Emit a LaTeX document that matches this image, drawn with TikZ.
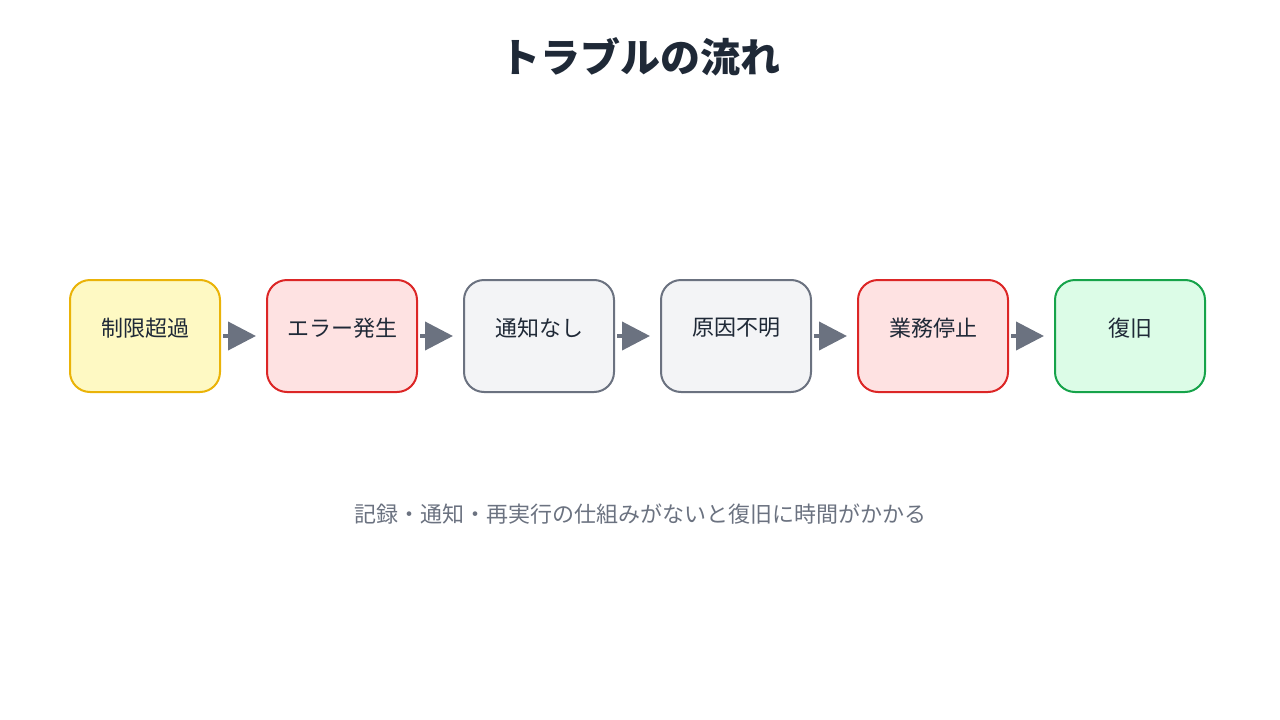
\documentclass[tikz,border=0pt]{standalone}
\usepackage{fontspec}
\setmainfont{Noto Sans CJK JP}
\usetikzlibrary{positioning,arrows.meta}
\definecolor{ylwfill}{HTML}{FEF9C3}\definecolor{ylwline}{HTML}{EAB308}
\definecolor{redfill}{HTML}{FEE2E2}\definecolor{redline}{HTML}{DC2626}
\definecolor{gryfill}{HTML}{F3F4F6}\definecolor{gryline}{HTML}{6B7280}
\definecolor{grnfill}{HTML}{DCFCE7}\definecolor{grnline}{HTML}{16A34A}
\definecolor{ttl}{HTML}{1F2937}
\begin{document}
\begin{tikzpicture}[x=1pt,y=-1pt]
\tikzstyle{box} = [draw,line width=2pt,rounded corners=20pt,minimum width=150pt,minimum height=112pt,inner sep=0pt]
\tikzstyle{lbl} = [text=ttl,font=\fontsize{22}{26}\selectfont]
\tikzstyle{flow} = [gryline,line width=4pt,-{Triangle[length=28pt,width=28pt]},shorten <=2pt,shorten >=10pt]
\useasboundingbox (0,0) rectangle (1280,720);
\node[font=\fontsize{40}{48}\selectfont\bfseries,text=ttl] (title) at (640,57) {トラブルの流れ};
\node[box,fill=ylwfill,draw=ylwline] (b1) at (145,336) {};
\node[box,fill=redfill,draw=redline,right=45pt of b1] (b2) {};
\node[box,fill=gryfill,draw=gryline,right=45pt of b2] (b3) {};
\node[box,fill=gryfill,draw=gryline,right=45pt of b3] (b4) {};
\node[box,fill=redfill,draw=redline,right=45pt of b4] (b5) {};
\node[box,fill=grnfill,draw=grnline,right=45pt of b5] (b6) {};
\node[lbl] at ([yshift=8pt]b1) {制限超過};
\node[lbl] at ([yshift=8pt]b2) {エラー発生};
\node[lbl] at ([yshift=8pt]b3) {通知なし};
\node[lbl] at ([yshift=8pt]b4) {原因不明};
\node[lbl] at ([yshift=8pt]b5) {業務停止};
\node[lbl] at ([yshift=8pt]b6) {復旧};
\foreach \a/\b in {b1/b2,b2/b3,b3/b4,b4/b5,b5/b6}
  \draw[flow] (\a) -- (\b);
\node[text=gryline,font=\fontsize{22}{26}\selectfont] (note) at (640,514) {記録・通知・再実行の仕組みがないと復旧に時間がかかる};
\end{tikzpicture}
\end{document}
